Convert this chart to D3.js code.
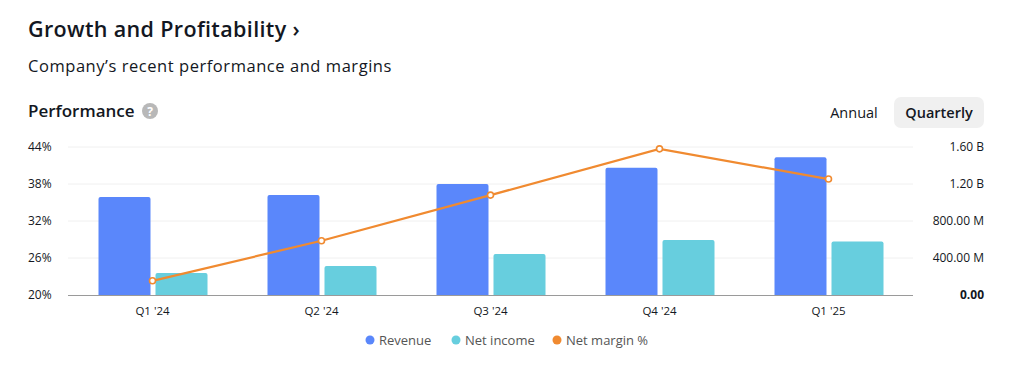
<!DOCTYPE html>
<html><head><meta charset="utf-8">
<script src="https://cdn.jsdelivr.net/npm/d3@7"></script>
<style>
body{margin:0;background:#fff;font-family:"Open Sans","Noto Sans",sans-serif;}
svg text{font-family:"Open Sans","Noto Sans",sans-serif;}
</style></head><body>
<svg id="c" width="1024" height="367"></svg>
<script>
const categories = ["Q1 '24","Q2 '24","Q3 '24","Q4 '24","Q1 '25"];
const revenue = [1.06e9, 1.08e9, 1.20e9, 1.375e9, 1.49e9];
const netIncome = [0.238e9, 0.313e9, 0.443e9, 0.595e9, 0.578e9];
const netMargin = [22.3, 28.8, 36.2, 43.7, 38.8];
const leftTicks = [20, 26, 32, 38, 44];
const rightTicks = [0, 0.4e9, 0.8e9, 1.2e9, 1.6e9];
const rightTickLabels = ["0.00","400.00 M","800.00 M","1.20 B","1.60 B"];
const legendItems = ["Revenue","Net income","Net margin %"];
const colors = {rev:"#5a87fb", ni:"#67cede", nm:"#f08a30"};

const svg = d3.select("#c");
const L = 68, R = 913, T = 147, B = 295;

svg.append("text").attr("x",28).attr("y",37).attr("font-size",21.5).attr("letter-spacing",0.35).attr("font-weight",600).attr("fill","#131722").text("Growth and Profitability ›");
svg.append("text").attr("x",28).attr("y",72).attr("font-size",16.5).attr("letter-spacing",0.55).attr("fill","#131722").text("Company’s recent performance and margins");
svg.append("text").attr("x",28).attr("y",117).attr("font-size",17).attr("font-weight",600).attr("fill","#131722").text("Performance");
svg.append("circle").attr("cx",150).attr("cy",111).attr("r",8).attr("fill","#b8b8b8");
svg.append("text").attr("x",150).attr("y",115.5).attr("text-anchor","middle").attr("font-size",12).attr("font-weight",700).attr("fill","#fff").text("?");

svg.append("text").attr("x",854).attr("y",118).attr("text-anchor","middle").attr("font-size",14.5).attr("fill","#131722").text("Annual");
svg.append("rect").attr("x",894).attr("y",97).attr("width",90).attr("height",31).attr("rx",7).attr("fill","#f0f0f0");
svg.append("text").attr("x",939).attr("y",118).attr("text-anchor","middle").attr("font-size",14.5).attr("font-weight",600).attr("fill","#131722").text("Quarterly");

const x = d3.scaleBand().domain(categories).range([L,R]).paddingInner(0).paddingOuter(0);
const yL = d3.scaleLinear().domain([20,44]).range([B,T]);
const yR = d3.scaleLinear().domain([0,1.6e9]).range([B,T]);

// gridlines
svg.append("g").selectAll("line").data(rightTicks.slice(1)).join("line")
  .attr("x1",L).attr("x2",R).attr("y1",d=>yR(d)).attr("y2",d=>yR(d))
  .attr("stroke","#f0f0f0").attr("stroke-width",1);

// left axis
const gl = svg.append("g").attr("transform",`translate(${L},0)`)
  .call(d3.axisLeft(yL).tickValues(leftTicks).tickFormat(d=>d+"%").tickSize(0));
gl.select(".domain").remove();
gl.selectAll("text").attr("x",-40).attr("text-anchor","start").attr("font-size",12).attr("fill","#131722");

// right axis
const gr = svg.append("g").attr("transform",`translate(${R},0)`)
  .call(d3.axisRight(yR).tickValues(rightTicks).tickFormat((d,i)=>rightTickLabels[i]).tickSize(0));
gr.select(".domain").remove();
gr.selectAll("text").attr("x",71).attr("text-anchor","end").attr("font-size",12).attr("fill","#131722")
  .attr("font-weight",(d,i)=>i===0?700:400);

// bars
const bw = 52, gap = 5;
const bar = (v,off,col)=>{
  svg.append("g").selectAll("path").data(v).join("path")
   .attr("d",(d,i)=>{
     const x0 = x(categories[i]) + x.bandwidth()/2 + off;
     const y0 = yR(d), r=2;
     return `M${x0},${B}V${y0+r}Q${x0},${y0} ${x0+r},${y0}H${x0+bw-r}Q${x0+bw},${y0} ${x0+bw},${y0+r}V${B}Z`;
   }).attr("fill",col);
};
bar(revenue,-bw-gap/2+0.5,colors.rev);
bar(netIncome,gap/2+0.5,colors.ni);

// baseline
svg.append("line").attr("x1",L).attr("x2",R).attr("y1",B+0.5).attr("y2",B+0.5).attr("stroke","#9a9a9a").attr("stroke-width",1.2);

// x axis labels
const gx = svg.append("g").attr("transform",`translate(0,${B})`)
  .call(d3.axisBottom(x).tickSize(0));
gx.select(".domain").remove();
gx.selectAll("text").attr("y",12).attr("font-size",11.5).attr("fill","#131722");

// line
const line = d3.line().x((d,i)=>x(categories[i])+x.bandwidth()/2).y(d=>yL(d));
svg.append("path").datum(netMargin).attr("d",line).attr("fill","none").attr("stroke",colors.nm).attr("stroke-width",2.2);
svg.append("g").selectAll("circle").data(netMargin).join("circle")
  .attr("cx",(d,i)=>x(categories[i])+x.bandwidth()/2).attr("cy",d=>yL(d)).attr("r",3)
  .attr("fill","#fff").attr("stroke",colors.nm).attr("stroke-width",1.6);

// legend
const lx = [370, 456, 557];
const lc = [colors.rev, colors.ni, colors.nm];
const lg = svg.append("g");
legendItems.forEach((t,i)=>{
  lg.append("circle").attr("cx",lx[i]).attr("cy",340).attr("r",4.5).attr("fill",lc[i]);
  lg.append("text").attr("x",lx[i]+9).attr("y",345).attr("font-size",13).attr("fill","#555").text(t);
});
</script></body></html>
